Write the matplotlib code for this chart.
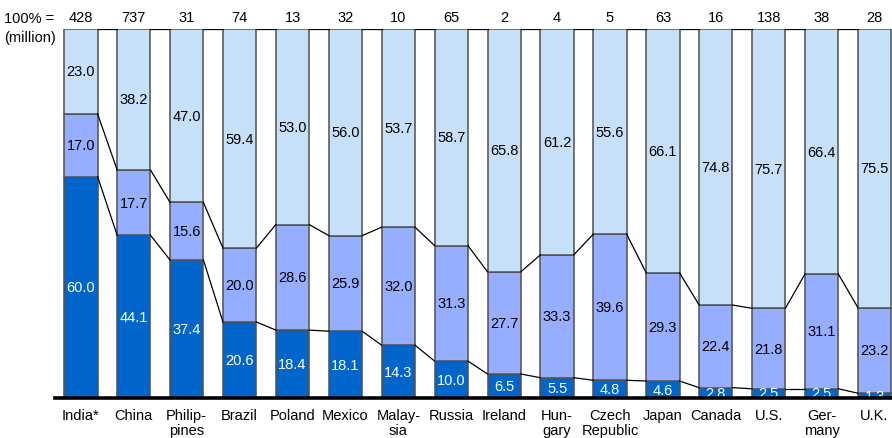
import matplotlib.pyplot as plt
import numpy as np

plt.rcParams['font.family'] = ['Liberation Sans', 'DejaVu Sans']

countries = ['India*', 'China', 'Philip-\npines', 'Brazil', 'Poland', 'Mexico',
             'Malay-\nsia', 'Russia', 'Ireland', 'Hun-\ngary', 'Czech\nRepublic',
             'Japan', 'Canada', 'U.S.', 'Ger-\nmany', 'U.K.']
totals = [428, 737, 31, 74, 13, 32, 10, 65, 2, 4, 5, 63, 16, 138, 38, 28]
bottom_share = [60.0, 44.1, 37.4, 20.6, 18.4, 18.1, 14.3, 10.0, 6.5, 5.5, 4.8,
                4.6, 2.8, 2.5, 2.5, 1.3]
middle_share = [17.0, 17.7, 15.6, 20.0, 28.6, 25.9, 32.0, 31.3, 27.7, 33.3, 39.6,
                29.3, 22.4, 21.8, 31.1, 23.2]
top_share = [23.0, 38.2, 47.0, 59.4, 53.0, 56.0, 53.7, 58.7, 65.8, 61.2, 55.6,
             66.1, 74.8, 75.7, 66.4, 75.5]

colors = ['#0066CC', '#96AEFF', '#C6E0FA']
text_colors = ['white', 'black', 'black']
fs = 10.5

fig = plt.figure(figsize=(8.92, 4.39), dpi=100)
ax = fig.add_axes([55 / 892, 40 / 439, 837 / 892, 369 / 439])

x = np.arange(len(countries))
w = 0.63
layers = [np.array(bottom_share), np.array(middle_share), np.array(top_share)]
base = np.zeros(len(x))
for vals, c, tc in zip(layers, colors, text_colors):
    ax.bar(x, vals, w, bottom=base, color=c, edgecolor='#505050', linewidth=1.1, zorder=2)
    for xi, b, v in zip(x, base, vals):
        ax.text(xi, b + v / 2, f'{v:.1f}', ha='center', va='center', fontsize=fs,
                color=tc, zorder=4, clip_on=True)
    base = base + vals
    # connectors between neighbouring bars at each boundary
    for i in range(len(x) - 1):
        ax.plot([x[i] + w / 2, x[i + 1] - w / 2], [base[i], base[i + 1]],
                color='black', linewidth=0.9, zorder=3)

ax.set_xlim(-0.49, 15.33)
ax.set_ylim(0, 100)
ax.axis('off')
ax.plot([-0.49, 15.33], [0, 0], color='black', linewidth=2.6, clip_on=False, zorder=5)

# header row with totals
fig.text(4 / 892, 1 - 19 / 439, '100% =', fontsize=fs, va='center', ha='left')
fig.text(4 / 892, 1 - 38 / 439, '(million)', fontsize=fs, va='center', ha='left')
for xi, t in zip(x, totals):
    ax.annotate(str(t), (xi, 100), xytext=(0, 8.5), textcoords='offset points',
                ha='center', va='center', fontsize=fs)
for xi, lbl in zip(x, countries):
    ax.annotate(lbl, (xi, 0), xytext=(0, -7), textcoords='offset points',
                ha='center', va='top', fontsize=fs, linespacing=1.1)

fig.savefig('out.png', dpi=100)
